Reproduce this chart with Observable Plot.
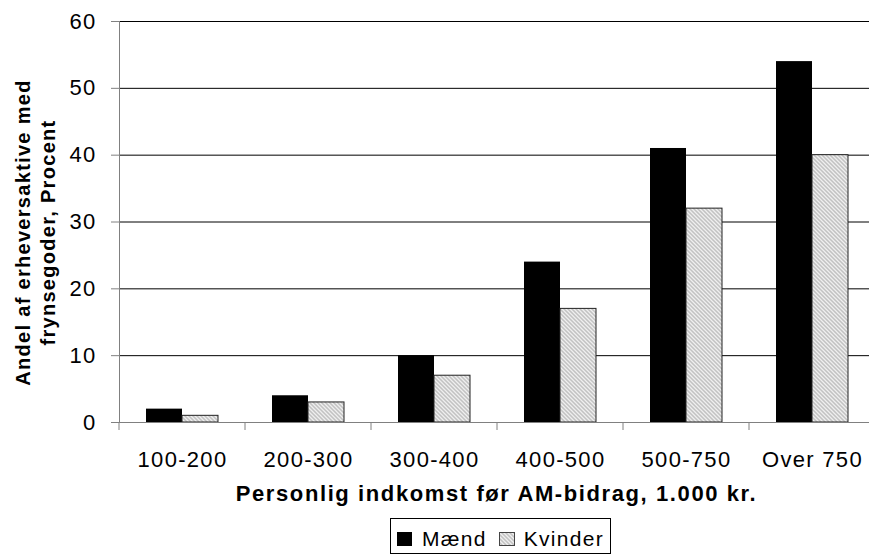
<!DOCTYPE html>
<html>
<head>
<meta charset="utf-8">
<script src="https://cdn.jsdelivr.net/npm/d3@7"></script>
<script src="https://cdn.jsdelivr.net/npm/@observablehq/plot@0.6"></script>
<style>
html, body { margin: 0; padding: 0; background: #fff; overflow: hidden; }
#wrap { position: relative; width: 869px; height: 554px; font-family: "Liberation Sans", Arial, sans-serif; color: #000; }
#chart svg { display: block; }
#ytitle { position: absolute; width: 400px; height: 49px; left: -165.2px; top: 207.5px; transform: rotate(-90deg);
  text-align: center; font-weight: bold; font-size: 20px; line-height: 24.5px; letter-spacing: 1.3px; white-space: nowrap; }
#xtitle { position: absolute; left: 116px; width: 761px; top: 483.4px; text-align: center; font-weight: bold;
  font-size: 22px; line-height: 22px; letter-spacing: 1.6px; white-space: nowrap; }
#legend { position: absolute; left: 390px; top: 518px; width: 219px; height: 29px; padding-top: 5px; border: 1px solid #000;
  display: flex; align-items: center; padding-left: 0; font-size: 21px; letter-spacing: 1.3px; background: #fff; }
#legend .sw { display: block; flex: none; }
g[aria-label="y-axis tick label"], g[aria-label="fx-axis tick label"] { letter-spacing: 1.3px; }
</style>
</head>
<body>
<div id="wrap">
  <div id="chart"></div>
  <div id="ytitle">Andel af erheversaktive med<br>frynsegoder, Procent</div>
  <div id="xtitle">Personlig indkomst før AM-bidrag, 1.000 kr.</div>
  <div id="legend"></div>
</div>
<script>
const categories = ["100-200", "200-300", "300-400", "400-500", "500-750", "Over 750"];
const series = ["Mænd", "Kvinder"];
const maend = [2, 4, 10, 24, 41, 54];
const kvinder = [1, 3, 7, 17, 32, 40];
const yTicks = [0, 10, 20, 30, 40, 50, 60];

const data = categories.flatMap((c, i) => [
  {cat: c, sex: series[0], value: maend[i]},
  {cat: c, sex: series[1], value: kvinder[i]}
]);

// small tick marks at the left edge of every category band, below the baseline
const boundaryTicks = (index, scales, values, dims) => {
  const g = d3.create("svg:g").attr("aria-label", "category boundary ticks");
  g.append("line")
    .attr("x1", dims.marginLeft).attr("x2", dims.marginLeft)
    .attr("y1", scales.y(0)).attr("y2", scales.y(0) + 8)
    .attr("stroke", "#808080");
  return g.node();
};

const plot = Plot.plot({
  width: 869,
  height: 554,
  marginLeft: 116,
  marginRight: -8,
  marginTop: 21,
  marginBottom: 132,
  style: {fontFamily: "'Liberation Sans', Arial, sans-serif", background: "transparent", color: "#000"},
  fx: {domain: categories, padding: 0},
  x: {domain: series, paddingInner: 0, paddingOuter: 0.714, axis: null},
  y: {domain: [0, 60]},
  marks: [
    Plot.ruleY(yTicks.filter(v => v > 0), {stroke: "#000", strokeWidth: 1}),
    Plot.barY(data.filter(d => d.sex === series[0]), {fx: "cat", x: "sex", y: "value", fill: "#000"}),
    Plot.barY(data.filter(d => d.sex === series[1]), {fx: "cat", x: "sex", y: "value", fill: "url(#hatch)", stroke: "#222", strokeWidth: 1}),
    Plot.ruleY([0], {stroke: "#808080"}),
    Plot.frame({anchor: "left", facetAnchor: "left", stroke: "#808080"}),
    boundaryTicks,
    Plot.axisY({ticks: yTicks, tickSize: 8, tickPadding: 15, fontSize: 22, stroke: "#808080", fill: "#000", label: null}),
    Plot.axisFx({anchor: "bottom", tickSize: 0, tickPadding: 29, fontSize: 22, fill: "#000", label: null})
  ]
});

const patternDef = (id) => `<defs><pattern id="${id}" patternUnits="userSpaceOnUse" width="4" height="4">
  <rect width="4" height="4" fill="#c2c2c2"></rect>
  <path d="M-1,-1 L5,5 M-1,3 L1,5 M3,-1 L5,1" stroke="#efefef" stroke-width="1.3"></path>
</pattern></defs>`;
plot.insertAdjacentHTML("afterbegin", patternDef("hatch"));
document.getElementById("chart").appendChild(plot);

// legend
const legend = document.getElementById("legend");
legend.innerHTML = `
  <svg class="sw" width="15" height="14" style="margin-left:6px;margin-right:10px"><rect width="15" height="14" fill="#000"></rect></svg>
  <span>${series[0]}</span>
  <svg class="sw" width="16" height="14" style="margin-left:12px;margin-right:9px">${patternDef("hatchLegend")}<rect x="0.5" y="0.5" width="15" height="13" fill="url(#hatchLegend)" stroke="#444"></rect></svg>
  <span>${series[1]}</span>`;
</script>
</body>
</html>
